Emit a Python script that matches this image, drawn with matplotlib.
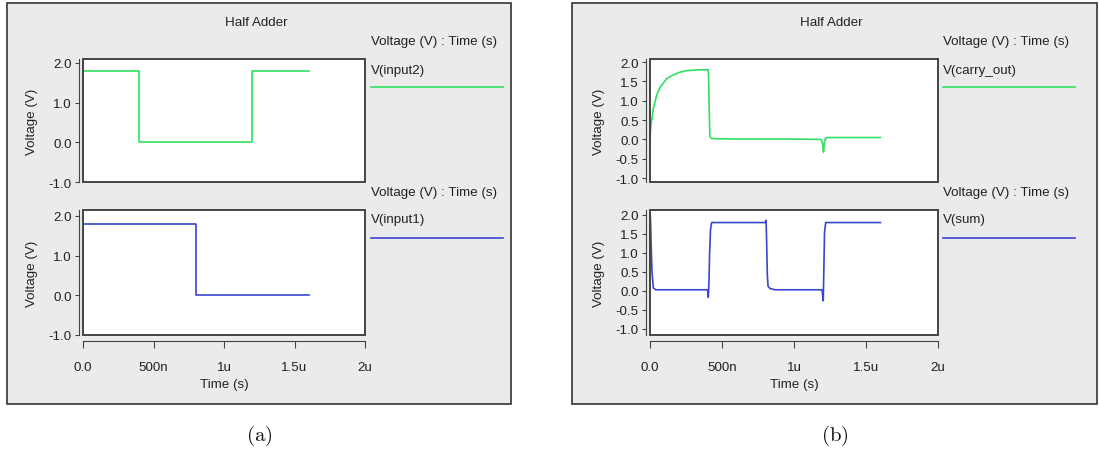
import matplotlib.pyplot as plt
import numpy as np
from matplotlib.patches import Rectangle

plt.rcParams['font.family'] = ['Liberation Sans', 'DejaVu Sans']
plt.rcParams['mathtext.fontset'] = 'cm'

W, H = 1099, 452

# ---- data (time in ns, voltage in V) ----
input2_t = [0, 400, 400, 1200, 1200, 1600]
input2_v = [1.8, 1.8, 0.0, 0.0, 1.8, 1.8]

input1_t = [0, 0, 800, 800, 1600]
input1_v = [0.0, 1.8, 1.8, 0.0, 0.0]

carry_t = [0, 3, 10, 23, 46, 70, 116, 162, 209, 255, 301, 350, 405, 408, 412,
           416, 425, 445, 600, 800, 1000, 1190, 1200, 1205, 1210, 1218, 1230,
           1400, 1600]
carry_v = [-0.05, 0.2, 0.45, 0.79, 1.14, 1.35, 1.57, 1.67, 1.74, 1.78, 1.79,
           1.80, 1.80, 1.45, 0.6, 0.08, 0.03, 0.02, 0.01, 0.01, 0.01, 0.0,
           -0.15, -0.33, -0.1, 0.03, 0.05, 0.05, 0.05]

sum_t = [0, 3, 8, 14, 23, 40, 200, 400, 405, 410, 414, 420, 428, 600, 800, 806,
         810, 815, 820, 835, 870, 1000, 1195, 1203, 1207, 1212, 1220, 1400, 1600]
sum_v = [2.0, 1.93, 1.2, 0.5, 0.08, 0.03, 0.03, 0.03, -0.17, 0.3, 1.0, 1.6,
         1.8, 1.8, 1.8, 1.86, 1.3, 0.4, 0.12, 0.06, 0.03, 0.03, 0.03, -0.26,
         0.5, 1.54, 1.8, 1.8, 1.8]

x_ticks = [0, 500, 1000, 1500, 2000]
x_labels = ['0.0', '500n', '1u', '1.5u', '2u']

GREEN = '#2fe062'
BLUE = '#3a46d0'
FRAME_BG = '#ebebeb'
DARK = '#444444'
FS = 9.6


def box(x0, y0, x1, y1):
    # pixel box -> figure fraction rect
    return [x0 / W, 1 - y1 / H, (x1 - x0) / W, (y1 - y0) / H]


fig = plt.figure(figsize=(W / 100, H / 100), dpi=100)
fig.patch.set_facecolor('white')


def panel(fx0, fx1, ax_x0, ax_x1, top, bottom, ylims, yticks, ylabels, names,
          label_x, sub):
    # grey frame
    fr = box(fx0, 4, fx1, 405)
    fig.add_artist(Rectangle((fr[0], fr[1]), fr[2], fr[3], transform=fig.transFigure,
                             facecolor=FRAME_BG, edgecolor='#333333', lw=1.2, zorder=-5))
    cx = (fx0 + fx1) / 2
    fig.text((cx - 3) / W, 1 - 23 / H, 'Half Adder', ha='center',
             va='center', fontsize=FS, color='#222222')
    axes = []
    for i, (t, v, color) in enumerate([top, bottom]):
        y0, y1 = (60, 183) if i == 0 else (211, 336)
        ax = fig.add_axes(box(ax_x0, y0, ax_x1, y1))
        ax.set_facecolor('white')
        ax.plot(t, v, color=color, lw=1.2)
        ax.set_xlim(0, 2000)
        ax.set_ylim(*ylims[i])
        ax.add_patch(Rectangle((0, 0), 1, 1, transform=ax.transAxes, fill=False,
                               edgecolor=DARK, lw=1.4, clip_on=False, zorder=5))
        for s in ['top', 'right']:
            ax.spines[s].set_visible(False)
        ax.spines['left'].set_position(('outward', 3))
        ax.spines['left'].set_color(DARK)
        ax.spines['left'].set_bounds(ylims[i][0], ylims[i][1])
        ax.set_yticks(yticks)
        ax.set_yticklabels(ylabels)
        ax.tick_params(axis='y', length=3, color=DARK, labelsize=FS, pad=2,
                       labelcolor='#222222')
        ax.set_ylabel('Voltage (V)', fontsize=FS, color='#222222', labelpad=8)
        if i == 0:
            ax.spines['bottom'].set_visible(False)
            ax.set_xticks([])
        else:
            ax.spines['bottom'].set_position(('outward', 4))
            ax.spines['bottom'].set_color(DARK)
            ax.set_xticks(x_ticks)
            ax.set_xticklabels(x_labels)
            ax.tick_params(axis='x', length=5, color=DARK, labelsize=FS, pad=10,
                           labelcolor='#222222')
            ax.set_xlabel('Time (s)', fontsize=FS, color='#222222', labelpad=3)
        axes.append(ax)
        # legend area
        ly_hdr, ly_name, ly_line = (42, 71, 88) if i == 0 else (193, 220, 239)
        fig.text(label_x / W, 1 - ly_hdr / H, 'Voltage (V) : Time (s)', ha='left',
                 va='center', fontsize=FS, color='#222222')
        fig.text(label_x / W, 1 - ly_name / H, names[i], ha='left', va='center',
                 fontsize=FS, color='#222222')
        fig.add_artist(plt.Line2D([label_x / W, min(label_x + 132, fx1 - 3) / W],
                                  [1 - ly_line / H] * 2, color=color, lw=1.2,
                                  transform=fig.transFigure))
    fig.text(cx / W, 1 - 436 / H, r'$\mathrm{' + sub + '}$', ha='center',
             va='center', fontsize=15, color='#111111')
    return axes


panel(7, 511, 83, 365,
      (input2_t, input2_v, GREEN), (input1_t, input1_v, BLUE),
      [(-1.0, 2.1), (-1.0, 2.15)], [2.0, 1.0, 0.0, -1.0],
      ['2.0', '1.0', '0.0', '-1.0'], ['V(input2)', 'V(input1)'], 371, '(a)')

panel(572, 1097, 650, 938,
      (carry_t, carry_v, GREEN), (sum_t, sum_v, BLUE),
      [(-1.1, 2.08), (-1.16, 2.13)], [2.0, 1.5, 1.0, 0.5, 0.0, -0.5, -1.0],
      ['2.0', '1.5', '1.0', '0.5', '0.0', '-0.5', '-1.0'],
      ['V(carry_out)', 'V(sum)'], 943, '(b)')

fig.savefig('out.png', dpi=100)
